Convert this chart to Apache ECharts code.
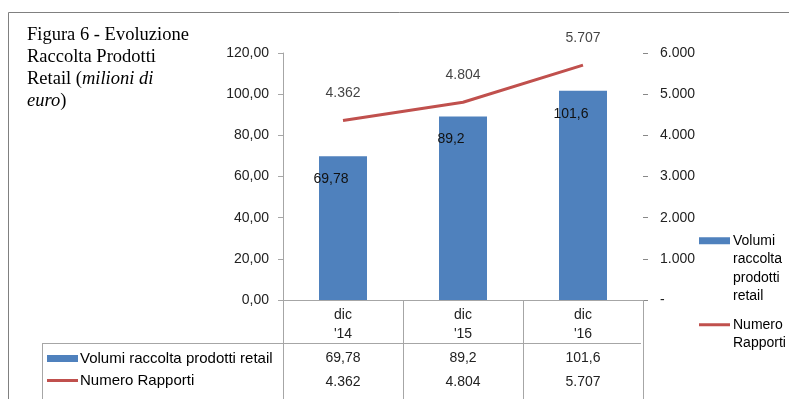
<!DOCTYPE html>
<html>
<head>
<meta charset="utf-8">
<script src="https://cdn.jsdelivr.net/npm/echarts@6/dist/echarts.min.js"></script>
<style>
  html, body { margin: 0; padding: 0; background: #fff; }
  #chart { width: 789px; height: 399px; }
</style>
</head>
<body>
<div id="chart"></div>
<script>
// dati del grafico
var categories = ["dic\n'14", "dic\n'15", "dic\n'16"];
var volumi = [69.78, 89.2, 101.6];
var rapporti = [4362, 4804, 5707];
var seriesNames = ['Volumi raccolta prodotti retail', 'Numero Rapporti'];

function virgola(v) { return String(v).replace('.', ','); }
function migliaia(v) { return String(v).replace(/\B(?=(\d{3})+(?!\d))/g, '.'); }

var font = '"Liberation Sans", Arial, sans-serif';
var gray = '#a6a6a6';
var lineIcon = 'path://M0,0L31,0L31,3L0,3Z';

var chart = echarts.init(document.getElementById('chart'));

var option = {
  animation: false,
  backgroundColor: '#fff',
  title: {
    text: 'Figura 6 - Evoluzione\nRaccolta Prodotti\nRetail ({i|milioni di}\n{i|euro})',
    left: 27,
    top: 24,
    padding: 0,
    textStyle: {
      fontFamily: '"Liberation Serif", "Times New Roman", serif',
      fontSize: 18.5,
      fontWeight: 'normal',
      color: '#000',
      lineHeight: 22,
      rich: {
        i: { fontFamily: '"Liberation Serif", serif', fontSize: 18.5, fontStyle: 'italic', color: '#000', lineHeight: 22 }
      }
    }
  },
  legend: [{
    // legenda nella tabella
    orient: 'vertical',
    left: 47,
    top: 350,
    padding: 0,
    itemWidth: 31,
    itemHeight: 7,
    itemGap: 5,
    data: [{ name: seriesNames[0], icon: 'rect' }, { name: seriesNames[1], icon: lineIcon }],
    textStyle: { fontFamily: font, fontSize: 15, color: '#000', lineHeight: 17, padding: [0, 0, 0, -3] }
  }, {
    orient: 'vertical',
    left: 699,
    top: 176,
    padding: 0,
    itemWidth: 31,
    itemHeight: 7,
    data: [{ name: seriesNames[0], icon: 'rect' }],
    formatter: function (n) { return '\n\n\n' + n.split(' ').join('\n'); },
    textStyle: { fontFamily: font, fontSize: 14, color: '#000', lineHeight: 18.5, padding: [0, 0, 0, -2] }
  }, {
    orient: 'vertical',
    left: 699,
    top: 297,
    padding: 0,
    itemWidth: 31,
    itemHeight: 7,
    data: [{ name: seriesNames[1], icon: lineIcon }],
    formatter: function (n) { return '\n' + n.split(' ').join('\n'); },
    textStyle: { fontFamily: font, fontSize: 14, color: '#000', lineHeight: 18.5, padding: [0, 0, 0, -2] }
  }],
  grid: { left: 283, right: 146, top: 53, bottom: 99 },
  xAxis: [{
    type: 'category',
    data: categories,
    axisLine: { lineStyle: { color: gray } },
    axisTick: { show: true, interval: 0, length: 99, lineStyle: { color: gray } },
    axisLabel: { fontFamily: font, fontSize: 14, color: '#222', lineHeight: 19, margin: 6, interval: 0 }
  }, {
    type: 'category',
    position: 'bottom',
    offset: 50,
    data: volumi.map(virgola),
    axisLine: { show: false },
    axisTick: { show: false },
    axisLabel: { fontFamily: font, fontSize: 14, color: '#222', lineHeight: 16, margin: 0, interval: 0 }
  }, {
    type: 'category',
    position: 'bottom',
    offset: 74,
    data: rapporti.map(migliaia),
    axisLine: { show: false },
    axisTick: { show: false },
    axisLabel: { fontFamily: font, fontSize: 14, color: '#222', lineHeight: 16, margin: 0, interval: 0 }
  }],
  yAxis: [{
    type: 'value',
    min: 0,
    max: 120,
    interval: 20,
    axisLine: { show: true, lineStyle: { color: gray } },
    axisTick: { show: true, length: 5, lineStyle: { color: gray } },
    splitLine: { show: false },
    axisLabel: {
      fontFamily: font, fontSize: 14, color: '#222', margin: 14,
      formatter: function (v) { return v.toFixed(2).replace('.', ','); }
    }
  }, {
    type: 'value',
    min: 0,
    max: 6000,
    interval: 1000,
    position: 'right',
    axisLine: { show: false },
    axisTick: { show: true, length: 5, lineStyle: { color: '#888' } },
    splitLine: { show: false },
    axisLabel: {
      fontFamily: font, fontSize: 14, color: '#222', margin: 17, align: 'left',
      formatter: function (v) { return v === 0 ? '-' : migliaia(v); }
    }
  }],
  series: [{
    name: seriesNames[0],
    type: 'bar',
    data: volumi,
    barWidth: '40%',
    itemStyle: { color: '#4F81BD' },
    label: {
      show: true,
      position: 'insideTop',
      distance: 16,
      offset: [-12, 0],
      fontFamily: font,
      fontSize: 14,
      color: '#111',
      formatter: function (p) { return virgola(p.value); }
    }
  }, {
    name: seriesNames[1],
    type: 'line',
    yAxisIndex: 1,
    data: rapporti,
    symbol: 'none',
    lineStyle: { color: '#C0504D', width: 3 },
    itemStyle: { color: '#C0504D' }
  }, {
    // solo etichette della linea
    name: 'etichette',
    type: 'scatter',
    yAxisIndex: 1,
    data: rapporti,
    symbolSize: 0,
    silent: true,
    itemStyle: { color: 'transparent' },
    label: {
      show: true,
      position: 'top',
      distance: 20,
      fontFamily: font,
      fontSize: 14,
      color: '#111',
      formatter: function (p) { return migliaia(p.value); }
    }
  }],
  graphic: [
    // cornice esterna
    { type: 'rect', silent: true, shape: { x: 8.5, y: 12.5, width: 800, height: 400 },
      style: { fill: 'none', stroke: '#808080', lineWidth: 1 } },
    // righe della tabella dati
    { type: 'line', silent: true, shape: { x1: 43, y1: 343.5, x2: 641, y2: 343.5 },
      style: { stroke: gray, lineWidth: 1 } },
    { type: 'line', silent: true, shape: { x1: 42.5, y1: 343, x2: 42.5, y2: 399 },
      style: { stroke: gray, lineWidth: 1 } },
    { type: 'line', silent: true, shape: { x1: 643, y1: 300.5, x2: 648, y2: 300.5 },
      style: { stroke: gray, lineWidth: 1 } }
  ]
};

chart.setOption(option);
</script>
</body>
</html>
